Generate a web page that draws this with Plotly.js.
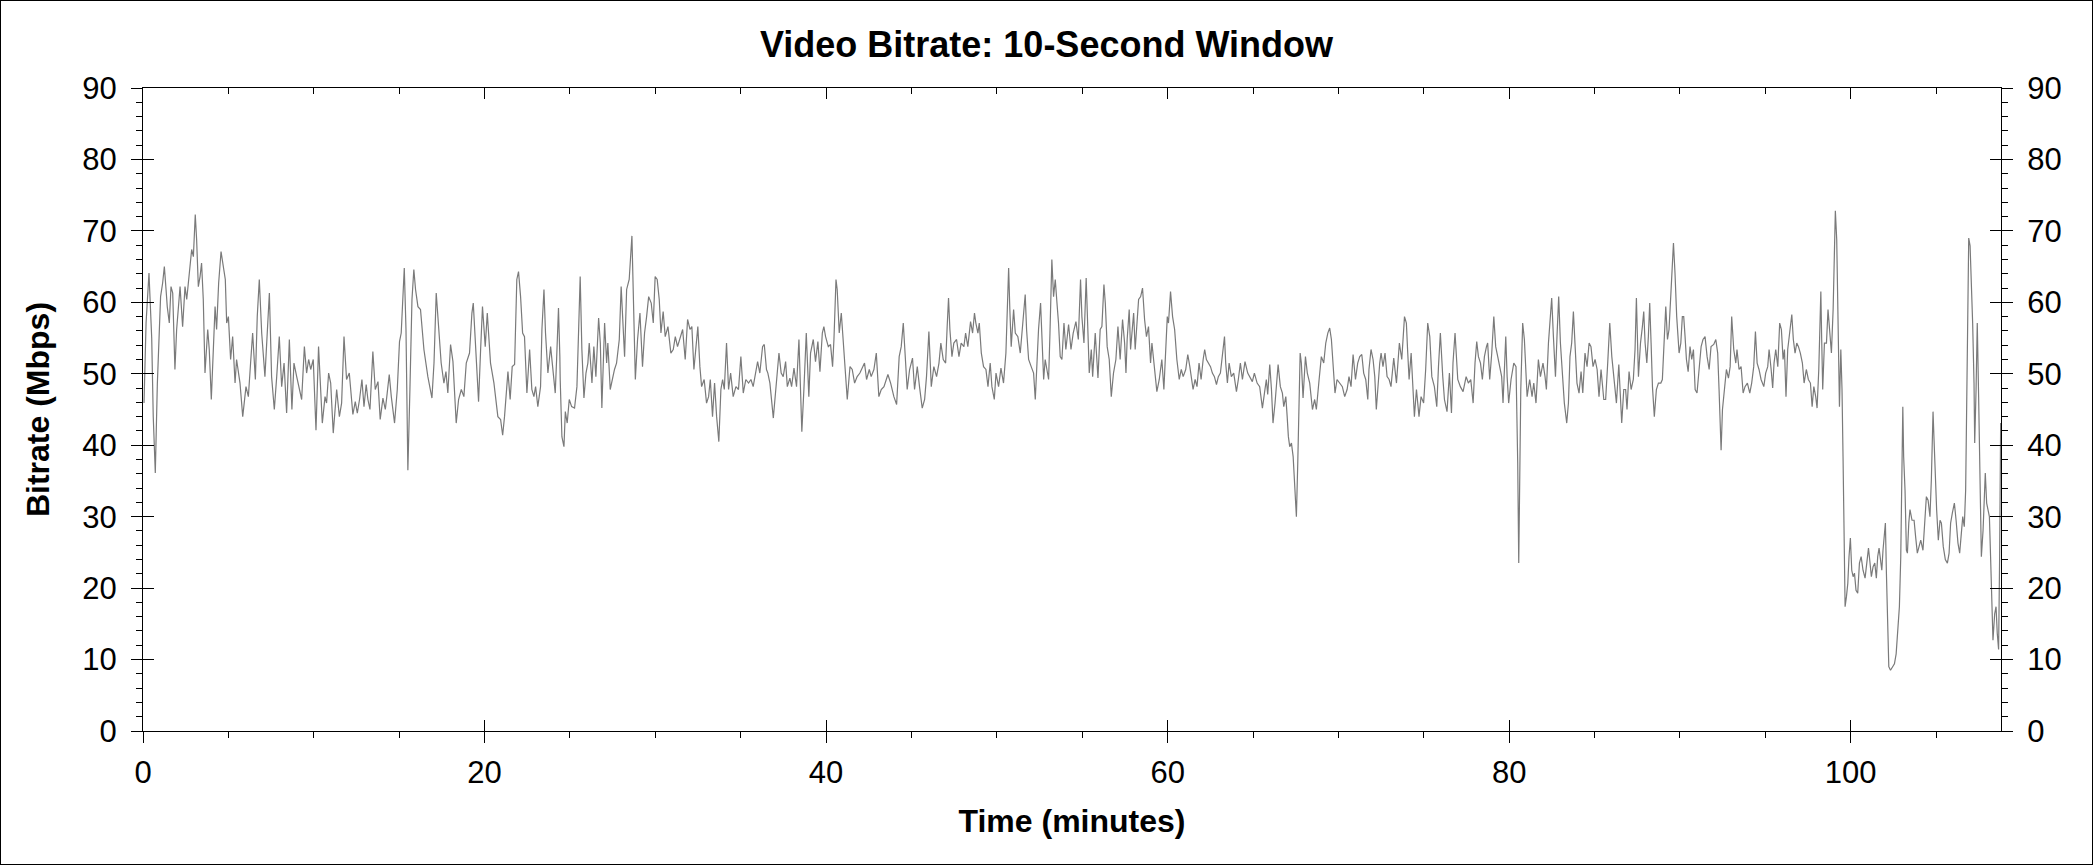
<!DOCTYPE html>
<html>
<head>
<meta charset="utf-8">
<script src="https://cdn.plot.ly/plotly-3.0.1.min.js"></script>
<style>
  body { margin: 0; background: #fff; }
  #chart { width: 2091px; height: 863px; border: 1px solid #000; }
</style>
</head>
<body>
<div id="chart"></div>
<script>
// bitrate samples: time in minutes, bitrate in Mbps
var minutes = [
  0.06,0.18,0.35,0.51,0.60,0.72,0.84,0.96,1.03,1.15,
  1.25,1.35,1.42,1.54,1.64,1.74,1.87,1.97,2.07,2.17,
  2.32,2.46,2.56,2.71,2.85,2.95,3.06,3.14,3.24,3.34,
  3.43,3.53,3.63,3.79,3.88,4.00,4.12,4.22,4.31,4.43,
  4.57,4.70,4.82,4.90,5.00,5.13,5.25,5.39,5.48,5.68,
  5.84,6.03,6.17,6.30,6.42,6.58,6.69,6.81,6.95,7.14,
  7.28,7.40,7.53,7.69,7.83,7.98,8.12,8.26,8.41,8.57,
  8.72,8.84,9.00,9.15,9.29,9.45,9.58,9.70,9.82,9.97,
  10.03,10.13,10.28,10.38,10.50,10.66,10.75,10.87,10.99,11.14,
  11.34,11.50,11.63,11.77,11.92,12.08,12.20,
  12.29,12.43,12.55,12.68,12.82,12.94,13.07,13.17,13.29,13.46,
  13.60,13.76,13.89,14.05,14.19,14.30,14.42,14.54,14.73,14.89,
  15.02,15.12,15.18,15.30,15.40,15.51,15.63,15.75,15.86,15.96,
  16.10,16.25,16.45,16.68,16.92,17.04,17.17,17.31,17.46,17.62,
  17.74,17.85,18.01,18.15,18.34,18.48,18.64,18.79,18.93,19.12,
  19.26,19.34,19.47,19.65,19.77,19.88,20.04,20.16,20.35,20.55,
  20.78,20.94,21.06,21.17,21.37,21.50,21.62,21.76,21.89,21.99,
  22.11,22.23,22.34,22.48,22.64,22.77,22.89,22.99,23.12,23.28,
  23.36,23.48,23.57,23.71,23.87,24.00,24.14,24.22,24.33,24.41,
  24.43,24.53,24.65,24.73,24.84,24.96,25.10,25.27,25.41,25.51,
  25.60,25.70,25.82,25.94,26.05,26.13,26.29,26.40,26.52,26.68,
  26.78,26.87,27.03,27.15,27.22,27.36,27.50,27.61,27.73,27.89,
  28.00,28.08,28.20,28.32,28.47,28.63,28.71,28.83,28.96,29.10,
  29.25,29.37,29.49,29.61,29.76,29.88,29.99,30.11,30.23,30.33,
  30.46,30.58,30.74,30.91,31.05,31.17,31.30,31.44,31.60,31.75,
  31.89,32.03,32.14,32.26,32.38,32.49,32.61,32.71,32.86,33.00,
  33.12,33.22,33.35,33.47,33.59,33.72,33.84,33.94,34.04,34.17,
  34.29,34.41,34.56,34.72,34.87,35.01,35.15,35.30,35.46,35.60,
  35.73,35.85,35.99,36.12,36.28,36.38,36.51,36.59,
  36.71,36.91,37.04,37.24,37.37,37.49,37.63,37.73,37.88,37.98,
  38.12,38.27,38.41,38.51,38.58,38.70,38.84,38.99,39.09,39.25,
  39.38,39.52,39.64,39.78,39.87,39.97,40.13,40.26,40.38,40.46,
  40.58,40.65,40.77,40.89,41.00,41.14,41.24,41.40,41.53,41.67,
  41.82,41.98,42.14,42.25,42.37,42.53,42.64,42.80,42.94,43.09,
  43.23,43.39,43.62,43.78,43.97,44.13,44.28,44.40,44.52,44.63,
  44.75,44.89,45.06,45.18,45.34,45.47,45.63,45.77,45.88,46.02,
  46.16,46.31,46.47,46.61,46.72,46.86,47.00,47.09,47.17,47.25,
  47.37,47.48,47.64,47.78,47.91,48.07,48.17,48.30,48.46,48.58,
  48.69,48.77,
  48.89,48.97,49.09,49.22,49.36,49.48,49.61,49.71,49.85,49.95,
  50.10,50.24,50.39,50.53,50.61,50.69,50.76,50.84,50.98,51.08,
  51.23,51.37,51.47,51.56,51.66,51.74,51.86,52.01,52.15,52.25,
  52.35,52.44,52.56,52.64,52.74,52.83,53.03,53.11,53.22,53.32,
  53.42,53.52,53.61,53.71,53.81,53.93,54.04,54.20,54.34,54.47,
  54.63,54.77,54.90,54.98,55.10,55.23,55.33,55.41,55.53,55.61,
  55.76,55.92,56.05,56.15,56.27,56.35,56.46,56.58,56.70,56.83,
  56.97,57.09,57.22,57.36,57.48,57.56,57.63,57.75,57.83,58.01,
  58.10,58.22,58.30,58.42,58.53,58.65,58.76,58.88,59.00,59.08,
  59.20,59.37,59.51,59.66,59.78,59.90,59.98,60.05,60.17,60.29,
  60.41,60.54,60.68,60.80,60.91,
  61.06,61.18,61.30,61.39,61.49,61.61,61.72,61.84,61.96,62.08,
  62.17,62.27,62.39,62.51,62.62,62.74,62.86,62.97,63.09,63.21,
  63.33,63.40,63.50,63.60,63.73,63.87,64.03,64.14,64.26,64.38,
  64.53,64.69,64.85,64.96,65.08,65.24,65.39,65.55,65.67,65.78,
  65.86,65.98,66.08,66.17,66.29,66.37,66.47,66.60,66.72,66.80,
  66.92,67.00,67.07,67.15,67.25,67.35,67.44,67.54,67.62,67.68,
  67.76,67.83,67.93,68.07,68.18,68.32,68.48,68.61,68.71,68.87,
  69.00,69.14,69.26,69.38,69.49,69.59,69.69,69.80,69.92,70.08,
  70.23,70.37,70.51,70.62,70.74,70.86,71.00,71.13,71.25,71.37,
  71.48,71.60,71.72,71.79,71.91,72.03,72.13,72.22,72.32,72.42,
  72.50,72.61,72.73,72.85,72.97,73.08,
  73.24,73.40,73.57,73.71,73.87,73.98,74.06,74.14,74.26,74.45,
  74.57,74.72,74.84,74.99,75.11,75.23,75.35,75.47,75.62,75.76,
  75.86,75.97,76.11,76.21,76.36,76.50,76.62,76.71,76.83,76.99,
  77.14,77.30,77.48,77.61,77.75,77.89,78.00,78.10,78.20,78.32,
  78.43,78.55,78.67,78.74,78.86,78.98,79.10,79.21,79.33,79.45,
  79.56,79.64,79.72,79.80,79.88,79.97,80.11,80.27,80.40,80.50,
  80.56,80.62,80.68,80.79,80.89,81.05,81.20,81.34,81.44,81.57,
  81.71,81.83,81.98,82.10,82.18,82.30,82.39,82.49,82.59,82.71,
  82.80,82.90,83.00,83.12,83.23,83.37,83.47,83.56,83.66,83.76,
  83.86,83.97,84.09,84.21,84.31,84.44,84.56,84.68,84.79,84.91,
  85.03,85.15,85.26,
  85.38,85.54,85.65,85.77,85.89,86.01,86.14,86.28,86.42,86.51,
  86.59,86.71,86.82,86.90,87.02,87.14,87.27,87.37,87.45,87.57,
  87.69,87.80,87.88,87.96,88.06,88.15,88.23,88.31,88.39,88.50,
  88.62,88.74,88.88,88.97,89.07,89.17,89.27,89.36,89.46,89.56,
  89.62,89.71,89.81,89.95,90.05,90.14,90.22,90.30,90.38,90.48,
  90.59,90.69,90.79,90.89,91.00,91.12,91.24,91.35,91.47,91.59,
  91.71,91.82,91.98,92.10,92.21,92.29,92.35,92.41,92.49,92.60,
  92.72,92.84,92.94,93.03,93.15,93.27,93.34,93.46,93.58,93.70,
  93.81,93.95,94.09,94.20,94.32,94.42,94.52,94.63,94.75,94.91,
  95.02,95.14,95.22,95.34,95.43,95.51,95.61,95.73,95.84,95.94,
  96.04,96.12,96.21,96.31,96.43,96.55,96.64,96.74,96.84,96.94,
  97.05,97.17,97.27,97.40,
  97.52,97.64,97.74,97.84,97.95,98.03,98.13,98.19,98.25,98.30,
  98.36,98.46,98.58,98.67,98.75,98.87,98.97,99.05,99.10,99.18,
  99.26,99.34,99.42,99.49,99.55,99.61,99.67,99.75,99.83,99.90,
  99.98,100.06,100.14,100.22,100.31,100.41,100.51,100.61,100.72,100.84,
  100.96,101.04,101.11,101.21,101.31,101.41,101.50,101.58,101.66,101.74,
  101.82,101.89,101.97,102.03,102.09,102.17,102.23,102.33,102.44,102.56,
  102.66,102.75,102.85,102.93,102.99,103.05,103.10,103.18,103.26,
  103.32,103.40,103.47,103.59,103.71,103.80,103.90,104.00,104.10,104.23,
  104.33,104.43,104.53,104.64,104.72,104.82,104.88,104.96,105.03,105.13,
  105.23,105.31,105.42,105.54,105.66,105.76,105.85,105.95,106.07,106.17,
  106.28,106.38,106.48,106.56,106.65,106.73,106.79,106.85,106.91,106.99,
  107.06,107.14,107.22,107.26,107.34,107.41,107.49,107.57,107.65,107.75,
  107.82,107.88,107.96,108.04,108.12,108.19,108.27,108.33,108.43,108.51,
  108.58,108.66,108.72,108.78
];

var mbps = [
  45.9,57.1,64.1,55.0,44.0,36.1,48.6,57.1,60.8,62.7,
  65.0,61.8,59.4,57.1,62.2,61.3,50.6,56.2,59.9,62.2,
  56.6,62.2,60.4,64.1,67.4,66.4,72.3,68.8,62.2,63.6,
  65.5,60.4,50.1,56.2,53.4,46.4,54.8,59.4,56.2,62.7,
  67.1,65.0,63.2,57.1,58.0,52.0,55.2,48.7,52.0,48.7,
  44.0,48.2,46.8,51.5,55.7,49.2,58.0,63.2,55.7,49.6,
  57.1,61.3,49.6,45.0,49.6,55.2,48.2,51.5,44.5,54.8,
  45.0,51.5,49.6,47.8,46.4,53.8,50.1,52.0,50.6,52.0,
  47.8,42.1,53.8,47.8,43.1,46.8,45.9,50.1,48.7,41.7,
  47.8,44.0,45.9,55.2,49.2,50.1,46.8,
  44.3,46.1,44.5,46.4,49.2,45.4,48.5,46.4,45.0,53.1,
  47.8,48.9,43.6,46.6,45.0,47.3,49.9,46.8,43.1,47.8,
  54.5,55.7,59.4,64.8,56.2,36.5,47.8,60.4,64.6,61.8,
  59.4,59.0,53.4,49.6,46.6,51.5,61.3,56.2,51.5,48.7,
  50.3,47.3,54.1,51.7,43.1,46.4,47.8,46.8,51.5,52.9,
  58.5,59.9,53.8,46.1,53.4,59.4,53.8,58.5,51.5,48.7,
  44.0,43.6,41.4,44.0,50.3,46.4,51.0,51.3,63.2,64.3,
  60.8,55.7,55.2,47.3,53.4,47.8,46.8,48.2,45.4,48.2,
  56.2,61.8,55.7,50.1,53.8,51.0,47.3,52.0,59.2,52.4,
  49.2,41.2,39.8,44.7,43.1,46.4,45.4,45.2,48.2,56.2,
  63.6,53.4,46.6,50.1,51.5,54.3,48.7,53.8,49.6,57.8,
  54.3,45.2,57.1,51.5,54.3,47.8,49.6,50.6,51.5,54.8,
  62.2,58.0,52.4,61.8,63.2,69.3,59.4,49.2,54.8,58.5,
  51.0,55.7,58.0,60.8,59.9,57.1,63.6,63.2,60.4,55.7,
  58.7,55.2,56.6,52.9,53.4,55.2,53.8,54.8,56.2,52.0,
  57.6,56.2,56.6,50.6,53.4,56.6,51.0,48.2,49.2,45.9,
  46.8,49.2,44.0,48.7,44.0,40.5,47.8,49.2,47.8,54.3,
  47.8,50.1,46.8,48.2,47.8,52.4,47.3,49.2,48.7,49.2,
  48.2,49.6,51.7,50.1,53.8,54.1,50.6,50.1,
  48.7,43.8,47.3,52.9,50.1,49.6,51.7,48.2,49.4,48.2,
  50.8,48.2,54.8,45.9,41.9,47.8,55.7,46.8,52.9,54.8,
  51.7,54.5,50.3,55.7,56.6,55.2,53.8,54.1,51.0,54.8,
  63.2,61.8,55.7,58.5,54.3,49.6,46.4,51.0,50.6,48.7,
  49.6,50.1,51.0,51.5,49.2,50.6,49.6,50.6,52.9,46.8,
  47.8,48.2,49.9,48.7,46.8,45.7,52.4,53.8,57.1,52.4,
  47.8,50.6,52.2,47.8,51.0,48.2,45.2,46.4,49.6,55.9,
  48.2,51.0,49.6,51.5,54.3,52.0,51.5,56.6,60.6,56.2,
  52.4,54.3,54.8,52.4,54.3,53.8,55.7,53.8,57.3,55.7,
  58.5,57.1,
  55.7,57.1,52.9,51.0,50.6,48.2,51.5,48.2,46.4,50.1,
  48.2,50.8,48.7,52.9,59.4,64.8,59.0,53.8,59.0,55.7,
  55.2,52.9,55.7,58.0,61.1,56.2,52.0,51.0,50.1,46.4,
  51.5,56.2,59.9,54.3,49.2,52.0,49.2,55.7,66.0,60.8,
  63.2,59.9,57.1,52.4,52.0,57.1,53.4,56.9,53.4,55.7,
  57.3,54.8,63.2,58.0,54.3,63.4,54.8,50.1,53.4,49.6,
  55.7,49.4,56.2,56.6,62.5,59.9,53.8,52.0,46.8,50.1,
  52.0,56.6,52.0,57.6,54.3,50.1,54.8,59.0,53.4,58.5,
  53.4,57.1,60.4,60.8,62.0,57.6,55.2,56.6,51.5,54.3,
  51.0,47.5,49.2,52.0,47.8,53.8,58.0,57.1,61.5,58.0,
  56.2,52.0,49.2,50.6,49.6,
  50.6,52.7,51.0,49.2,47.8,49.2,48.2,51.5,49.2,52.0,
  53.4,52.0,51.5,51.0,50.1,49.6,48.5,49.6,50.1,52.4,
  55.2,51.5,48.7,51.5,49.6,50.1,47.5,49.2,51.5,49.2,
  51.7,50.1,49.4,48.9,50.1,48.7,48.2,45.2,47.3,49.2,
  47.1,51.3,47.8,43.1,45.9,48.2,51.3,48.2,47.3,45.4,
  46.8,44.0,41.2,39.8,40.3,38.4,34.7,30.0,37.5,46.8,
  52.9,51.5,46.6,52.4,50.1,48.7,45.0,46.4,45.0,49.2,
  52.4,51.5,54.3,55.7,56.4,54.8,51.5,47.3,49.2,48.7,
  48.2,46.8,47.8,49.6,48.2,52.7,49.2,51.5,52.4,52.7,
  50.1,49.2,46.4,50.6,53.4,52.0,49.6,45.0,48.7,51.5,
  52.9,51.0,52.9,49.6,49.2,48.2,
  52.2,48.7,54.3,52.0,58.0,57.1,52.9,49.2,52.9,44.0,
  47.8,44.0,46.8,45.9,50.6,57.1,55.2,49.6,48.2,45.4,
  51.0,55.7,49.6,46.4,44.7,50.1,44.5,51.5,55.7,49.2,
  48.2,47.5,49.6,48.7,49.2,45.9,51.5,54.5,52.4,51.5,
  49.2,52.4,53.8,54.3,49.2,52.9,58.0,53.8,52.4,50.6,
  49.6,45.9,51.0,55.2,49.6,45.9,49.2,51.5,51.0,37.5,
  23.5,33.8,47.8,57.1,54.8,46.8,49.2,46.8,48.7,45.9,
  52.0,49.6,51.5,49.6,47.8,54.3,57.1,60.6,55.2,49.6,
  55.2,60.8,54.3,50.6,45.9,43.1,45.9,52.4,54.3,58.7,
  54.3,48.7,47.3,50.3,47.3,52.9,51.0,54.3,53.8,51.0,
  52.0,50.6,46.8,
  50.6,46.4,46.4,51.5,57.1,52.4,48.7,45.9,51.3,46.8,
  43.1,47.8,47.8,45.0,50.3,47.8,49.2,53.4,60.6,49.6,
  54.3,56.6,58.7,54.3,51.5,55.2,59.9,54.3,48.2,44.0,
  47.8,48.7,48.7,49.2,53.4,59.4,54.8,56.2,60.8,65.0,
  68.3,64.1,58.0,52.9,54.3,58.0,58.0,55.2,52.0,50.3,
  53.8,52.0,53.4,47.8,47.3,50.6,53.8,54.8,55.2,52.4,
  50.6,53.8,54.1,54.8,52.9,47.8,43.1,39.3,45.0,47.3,
  50.6,49.4,51.0,58.0,53.4,51.5,53.4,50.6,51.0,47.3,
  48.2,48.7,47.3,48.7,51.0,55.9,51.5,50.6,49.2,48.2,
  50.1,51.0,53.4,50.6,48.0,51.5,53.4,51.0,57.1,56.2,
  52.0,53.4,46.8,53.4,56.2,58.3,54.8,52.9,54.3,53.8,
  52.9,51.5,48.7,50.6,
  49.2,48.7,45.4,48.2,46.8,45.2,50.6,56.6,61.5,54.8,
  47.8,54.3,54.3,59.0,56.2,52.9,59.0,66.4,72.8,68.8,
  57.1,45.4,53.4,47.8,38.4,24.4,17.4,18.8,20.7,24.4,
  27.0,22.5,21.6,22.1,19.7,19.3,23.5,24.4,22.5,21.4,
  23.5,25.6,24.0,21.6,23.0,23.5,21.4,24.4,25.6,24.0,
  22.5,25.3,28.1,29.1,22.1,13.7,9.0,8.5,9.0,9.4,
  10.8,13.7,17.4,24.4,36.1,45.4,38.4,33.7,25.3,
  24.9,29.1,31.0,29.5,29.5,27.2,24.9,25.8,26.7,25.3,
  29.1,32.8,32.3,30.0,35.1,44.7,40.7,34.7,31.0,26.7,
  29.5,29.1,25.8,24.0,23.5,24.9,29.1,30.5,31.9,29.5,
  26.3,24.9,28.6,30.0,28.6,33.7,45.4,61.8,69.0,67.9,
  63.6,57.1,48.7,40.3,47.8,57.1,46.8,33.7,24.4,28.1,
  33.7,36.1,31.9,31.0,30.0,24.4,17.4,12.7,16.4,17.4,
  13.7,11.4,24.4,43.1
];

var timeRange = [0, 108.8];
var rateRange = [0, 90];

var fontFamily = 'Liberation Sans, Arial, Helvetica, sans-serif';

var trace = {
  x: minutes,
  y: mbps,
  type: 'scatter',
  mode: 'lines',
  line: { color: '#7a7a7a', width: 1.2 },
  hoverinfo: 'x+y'
};

// empty traces so the tick-only overlay axes get drawn
var axisPairs = [['x2', 'y'], ['x3', 'y'], ['x', 'y2'], ['x', 'y3'], ['x', 'y4']];
var holders = axisPairs.map(function (p) {
  return { type: 'scatter', mode: 'lines', x: [], y: [], xaxis: p[0], yaxis: p[1], hoverinfo: 'skip' };
});

// base axis style, copied for the tick overlays
function axisStyle(extra) {
  var a = {
    showgrid: false,
    zeroline: false,
    showline: false,
    linecolor: '#000',
    linewidth: 1,
    tickcolor: '#000',
    tickwidth: 1,
    ticklen: 11,
    tickfont: { family: fontFamily, size: 31, color: '#000' },
    fixedrange: true
  };
  for (var k in extra) a[k] = extra[k];
  return a;
}

var layout = {
  width: 2091,
  height: 863,
  margin: { l: 142, r: 91, t: 87, b: 133 },
  paper_bgcolor: '#fff',
  plot_bgcolor: '#fff',
  showlegend: false,
  font: { family: fontFamily, color: '#000' },
  title: {
    text: '<b>Video Bitrate: 10-Second Window</b>',
    font: { family: fontFamily, size: 36, color: '#000' },
    x: 0.5, xref: 'container',
    y: 0.95, yref: 'container', yanchor: 'middle'
  },
  // bottom axis: outer half of major ticks, labels, outward minor ticks
  xaxis: axisStyle({
    range: timeRange, tick0: 0, dtick: 20, ticks: 'outside',
    showline: true, mirror: true, ticklabelstandoff: 3,
    minor: { dtick: 5, ticks: 'outside', ticklen: 6, tickcolor: '#000', tickwidth: 1 },
    title: { text: '<b>Time (minutes)</b>', font: { family: fontFamily, size: 32, color: '#000' }, standoff: 20 }
  }),
  // inner half of bottom major ticks
  xaxis2: axisStyle({
    range: timeRange, tick0: 0, dtick: 20, ticks: 'inside',
    overlaying: 'x', anchor: 'y', side: 'bottom', showticklabels: false
  }),
  // top edge ticks, pointing inward
  xaxis3: axisStyle({
    range: timeRange, tick0: 0, dtick: 20, ticks: 'inside',
    overlaying: 'x', anchor: 'y', side: 'top', showticklabels: false,
    minor: { dtick: 5, ticks: 'inside', ticklen: 6, tickcolor: '#000', tickwidth: 1 }
  }),
  yaxis: axisStyle({
    range: rateRange, tick0: 0, dtick: 10, ticks: 'outside',
    showline: true, mirror: true, ticklabelstandoff: 8,
    minor: { dtick: 2, ticks: 'outside', ticklen: 6, tickcolor: '#000', tickwidth: 1 },
    title: { text: '<b>Bitrate (Mbps)</b>', font: { family: fontFamily, size: 32, color: '#000' }, standoff: 23 }
  }),
  yaxis2: axisStyle({
    range: rateRange, tick0: 0, dtick: 10, ticks: 'inside',
    overlaying: 'y', anchor: 'x', side: 'left', showticklabels: false
  }),
  yaxis3: axisStyle({
    range: rateRange, tick0: 0, dtick: 10, ticks: 'outside',
    overlaying: 'y', anchor: 'x', side: 'right', ticklabelstandoff: 8,
    minor: { dtick: 2, ticks: 'outside', ticklen: 6, tickcolor: '#000', tickwidth: 1 }
  }),
  yaxis4: axisStyle({
    range: rateRange, tick0: 0, dtick: 10, ticks: 'inside',
    overlaying: 'y', anchor: 'x', side: 'right', showticklabels: false
  })
};

Plotly.newPlot('chart', [trace].concat(holders), layout, { displayModeBar: false, staticPlot: true });
</script>
</body>
</html>
